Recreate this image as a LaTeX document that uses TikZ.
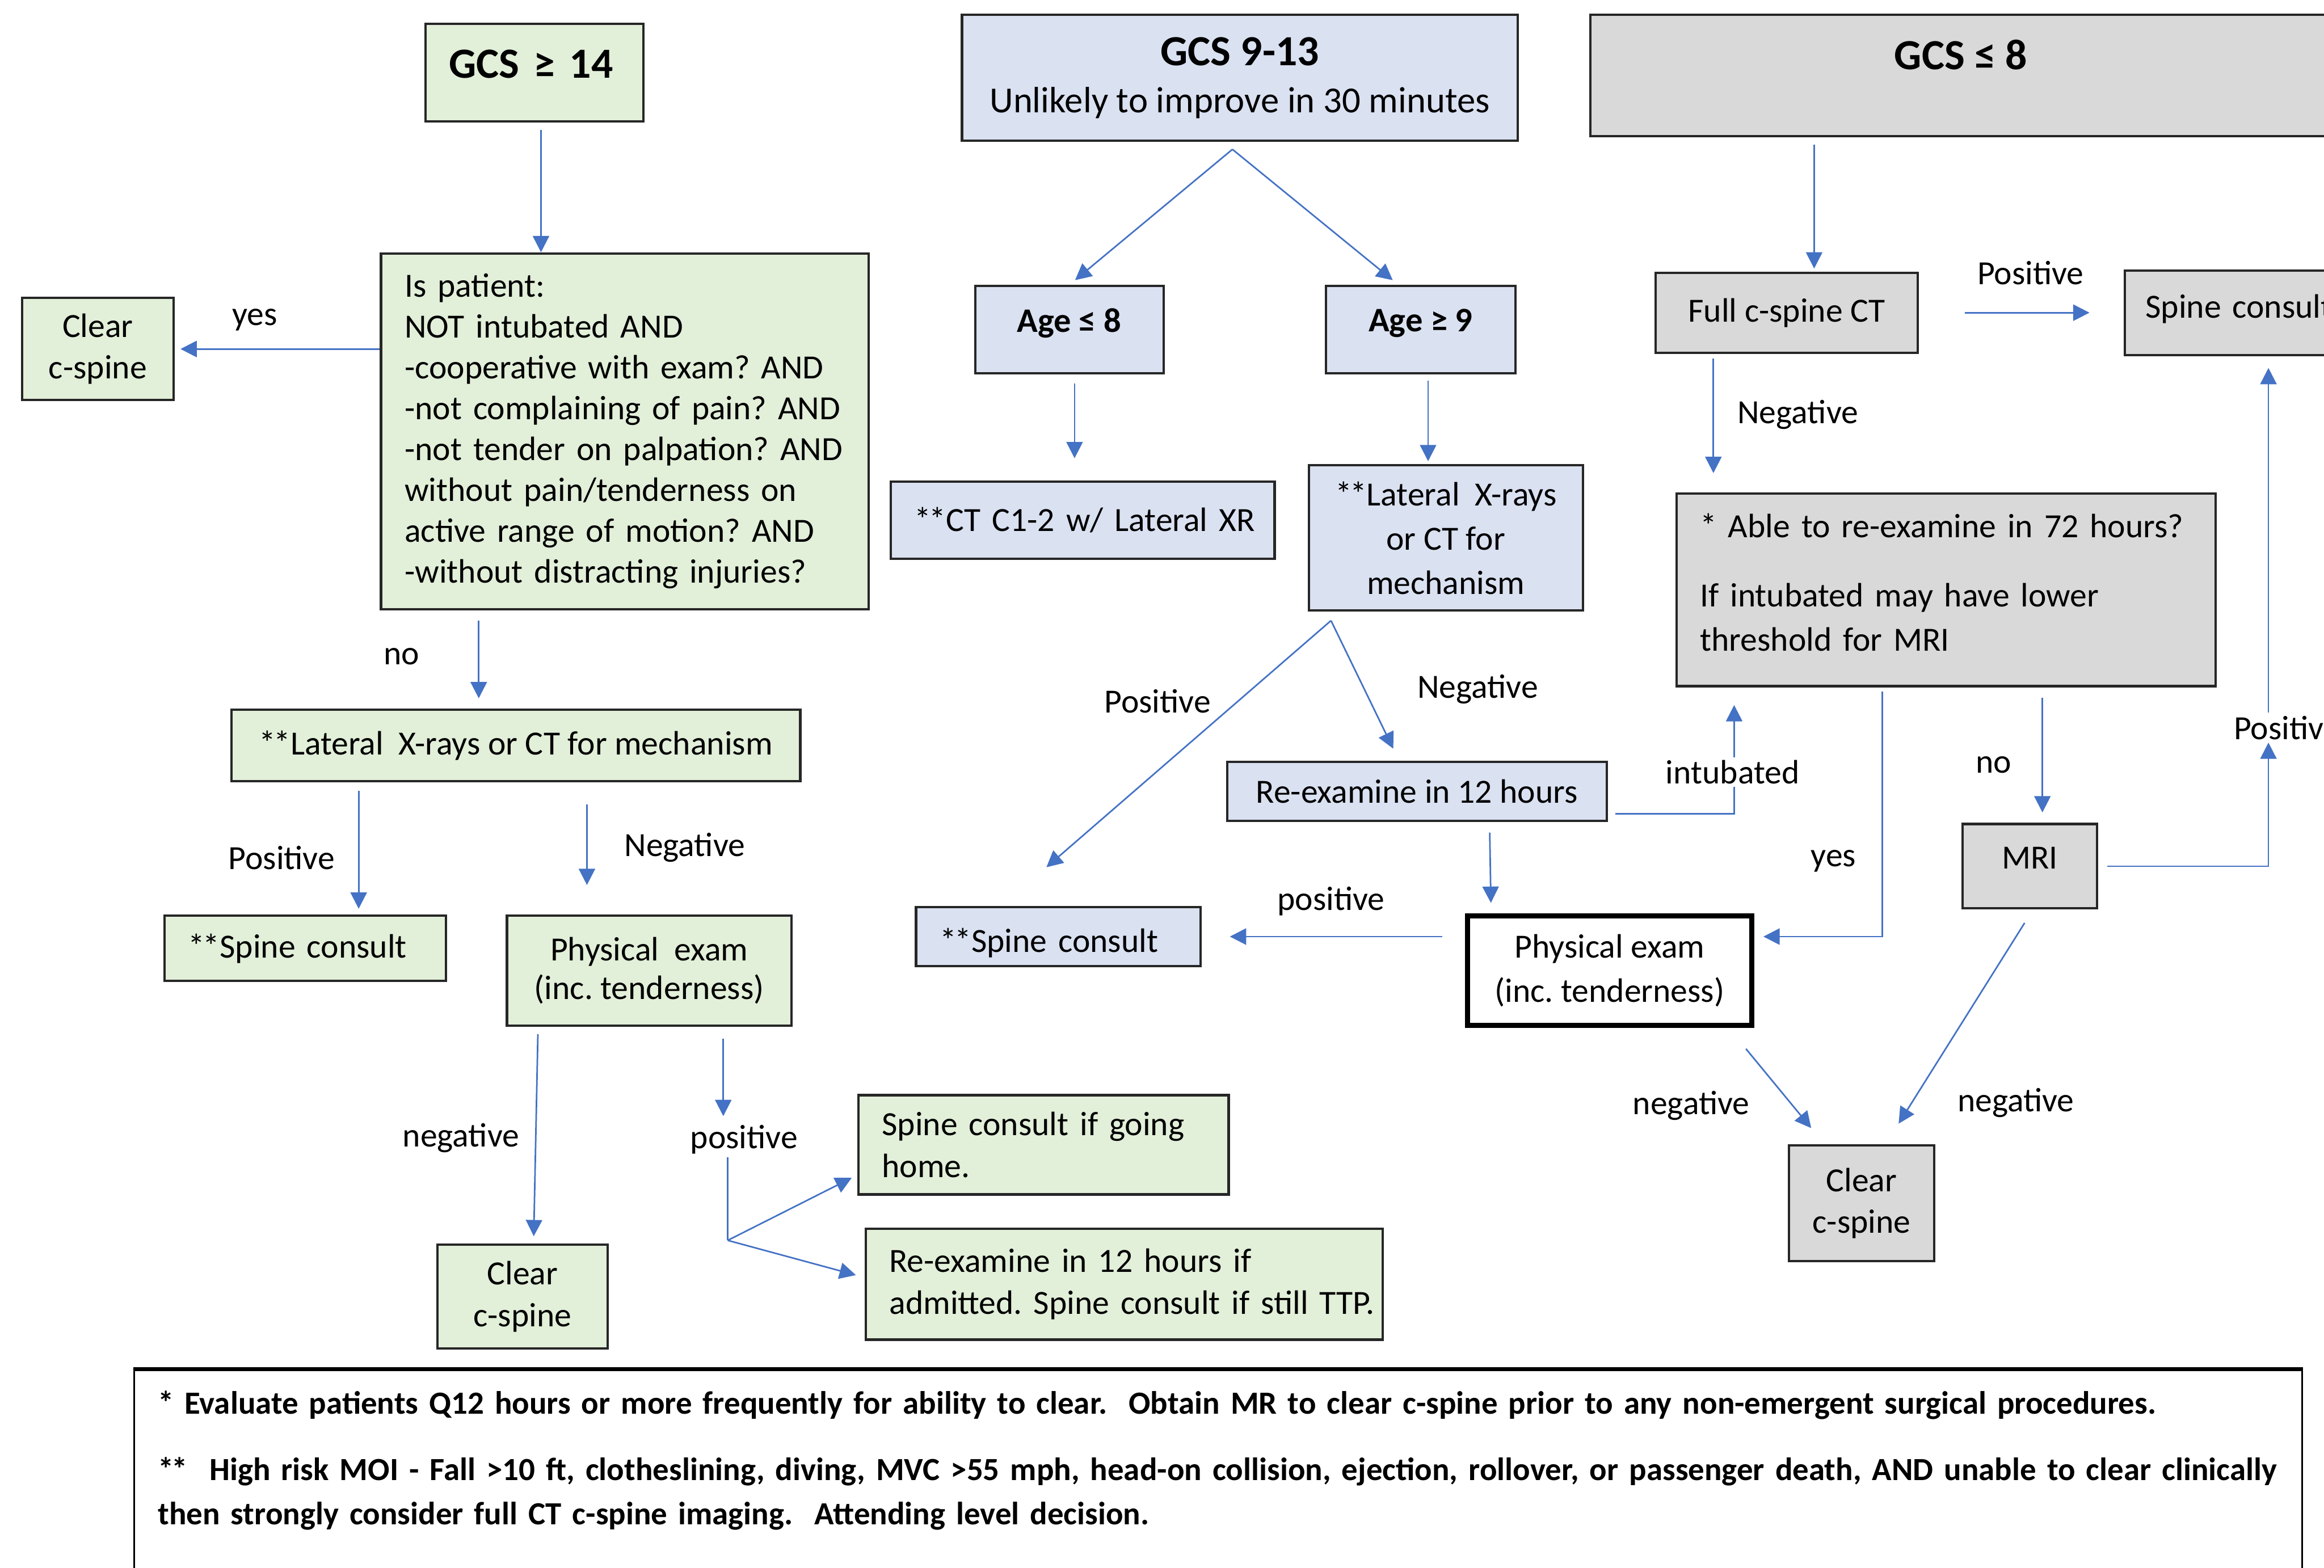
\documentclass[tikz,border=0pt]{standalone}
\usepackage{fontspec}
\setmainfont{Carlito}
\usepackage{tikz}
\usetikzlibrary{arrows.meta,positioning}
\definecolor{boxgreen}{HTML}{E2EFD9}
\definecolor{boxblue}{HTML}{DAE1F1}
\definecolor{boxgrey}{HTML}{D9D9D9}
\definecolor{linkblue}{HTML}{4472C4}
\frenchspacing
\hyphenpenalty=10000
\exhyphenpenalty=10000
\newcommand{\twostar}{*\kern-0.8pt*}

\begin{document}
\begin{tikzpicture}[
    x=0.02cm, y=-0.02cm,
    font=\fontsize{13}{16}\selectfont,
    node distance=0mm,
    block/.style={draw=black!85, line width=0.9pt, align=center, inner sep=0pt},
    gblock/.style={block, fill=boxgreen},
    bblock/.style={block, fill=boxblue},
    cblock/.style={block, fill=boxgrey},
    dims/.style 2 args={minimum width=#1, minimum height=#2},
    head/.style={font=\fontsize{16.5}{19}\selectfont\bfseries},
    lift/.style={text depth=#1},
    leftpad/.style={align=left, inner xsep=0.32cm, text width=#1},
    link/.style={draw=linkblue, line width=0.6pt},
    arr/.style={link, -{Triangle[length=2.2mm, width=2.2mm]}},
    lab/.style={inner sep=1pt}
]
\useasboundingbox (0,0) rectangle (1568,1058);
\clip (0,0) rectangle (1568,1058);

% GCS >= 14
\node[gblock, head, leftpad=2.3cm, dims={2.94cm}{1.32cm}, lift=0.24cm] (g14) at (360.5,49) {GCS~≥~14};
\node[gblock, leftpad=5.94cm, dims={6.54cm}{4.8cm}, font=\fontsize{13}{15.7}\selectfont] (ask) at (421.5,291)
  {Is patient:\\NOT intubated AND\\-cooperative with exam? AND\\-not complaining of pain? AND\\-not tender on palpation? AND\\without pain/tenderness on\\active range of motion? AND\\-without distracting injuries?};
\node[gblock, dims={2.04cm}{1.38cm}] (clr1) at (66,235.5) {Clear\\c-spine};
\node[gblock, dims={7.68cm}{0.96cm}] (lat1) at (348,503) {\twostar Lateral~ X-rays or CT for mechanism};
\node[gblock, leftpad=3.16cm, dims={3.8cm}{0.88cm}] (sc1) at (206,640) {\twostar Spine~consult};
\node[gblock, dims={3.84cm}{1.48cm}, font=\fontsize{13}{14.7}\selectfont] (pe1) at (438,655) {Physical~ exam\\(inc. tenderness)};
\node[gblock, dims={2.3cm}{1.4cm}] (clr2) at (352.5,875) {Clear\\c-spine};
\node[gblock, leftpad=4.36cm, dims={5cm}{1.34cm}] (home) at (704,772.5) {Spine consult if going\\home.};
\node[gblock, leftpad=6.34cm, dims={6.98cm}{1.5cm}] (reex1) at (758.5,866.5) {Re-examine in 12 hours if\\admitted.~Spine~consult~if~still~TTP.};

% GCS 9-13
\node[bblock, dims={7.5cm}{1.7cm}, font=\fontsize{14.1}{18}\selectfont] (g9) at (836.5,52.5)
  {{\fontsize{16.5}{18}\selectfont\bfseries GCS 9-13}\\Unlikely to improve in 30 minutes};
\node[bblock, font=\fontsize{13.2}{16}\selectfont\bfseries, dims={2.54cm}{1.18cm}, lift=0.26cm] (age8) at (721.5,222.5) {Age ≤ 8};
\node[bblock, font=\fontsize{13.2}{16}\selectfont\bfseries, dims={2.56cm}{1.18cm}, lift=0.26cm, right=2.16cm of age8] (age9) {Age ≥ 9};
\node[bblock, leftpad=4.54cm, dims={5.18cm}{1.04cm}] (ct12) at (730.5,351) {\twostar CT~C1-2~w/~Lateral~XR};
\node[bblock, dims={3.7cm}{1.96cm}, font=\fontsize{13}{17}\selectfont] (lat2) at (975.5,363) {\twostar Lateral~ X-rays\\or CT for\\mechanism};
\node[bblock, dims={5.12cm}{0.8cm}] (reex2) at (956,534) {Re-examine in 12 hours};
\node[bblock, leftpad=3.2cm, dims={3.84cm}{0.8cm}, text height=0.5cm] (sc2) at (714,632) {\twostar Spine~consult};
\node[block, draw=black, line width=2pt, fill=white, dims={3.84cm}{1.48cm}, font=\fontsize{13}{17}\selectfont] (pe2) at (1086,655) {Physical exam\\(inc. tenderness)};

% GCS <= 8
\node[cblock, head, dims={10cm}{1.64cm}, lift=0.56cm] (g8) at (1323,51) {GCS ≤ 8};
\node[cblock, dims={3.54cm}{1.08cm}] (fct) at (1205.5,211) {Full c-spine CT};
\node[cblock, leftpad=2.8cm, inner xsep=0.28cm, dims={3.36cm}{1.14cm}, lift=0.18cm, right=2.76cm of fct] (sc3) {Spine~consult};
\node[cblock, leftpad=6.64cm, dims={7.28cm}{2.6cm}, text depth=1.74cm, font=\fontsize{13}{17}\selectfont] (able) at (1313,398)
  {* Able to re-examine in 72 hours?\\[0.34cm]If intubated may have lower\\threshold for MRI};
\node[cblock, dims={1.82cm}{1.14cm}, lift=0.22cm] (mri) at (1369.5,584.5) {MRI};
\node[cblock, dims={1.96cm}{1.56cm}] (clr3) at (1256,812) {Clear\\c-spine};

% footnotes
\node[block, draw=black, line width=0.6pt, anchor=north west, leftpad=28.62cm, inner ysep=0.28cm, text depth=2.6cm,
      font=\fontsize{12.4}{17}\selectfont\bfseries] (note) at (90,924)
  {* Evaluate patients Q12 hours or more frequently for ability to clear.~ Obtain MR to clear c-spine prior to any non-emergent surgical procedures.\\[0.3cm]
   \mbox{\twostar~ High risk MOI - Fall >10 ft, clotheslining, diving, MVC >55 mph, head-on collision, ejection, rollover, or passenger death, AND unable to clear clinically}\\
   then strongly consider full CT c-spine imaging.~ Attending level decision.};
\draw[line width=1.6pt] (note.north west) -- (note.north east);

% edge labels
\foreach \n/\x/\y/\t in {yes1/172/216/yes, no1/271/443/no, pos1/190/579/Positive, neg1/462/572/Negative,
    neg2/311/768/negative, pos2/502/769/positive, pos3/781/473/Positive, neg3/997/465/Negative,
    pos4/898/608/positive, yes2/1237/581/yes, no2/1345/516/no, pos5/1370/184/Positive,
    neg4/1213/280/Negative, neg5/1141/746/negative, neg6/1360/744/negative, posr/1543/491/Positive}
  \node[lab] (\n) at (\x,\y) {\t};

% left column
\draw[arr, shorten <=1mm] ([xshift=0.9mm]g14.south) -- ([xshift=0.9mm]g14.south |- ask.north);
\draw[arr, shorten >=0.8mm] (ask.west |- clr1.east) -- (clr1.east);
\draw[arr, shorten <=1.4mm, shorten >=1.4mm] ([xshift=-5mm]lat1.north |- ask.south) -- ([xshift=-5mm]lat1.north);
\draw[arr, shorten <=1.2mm, shorten >=0.8mm] ([xshift=7.2mm]sc1.north |- lat1.south) -- ([xshift=7.2mm]sc1.north);
\draw[arr, shorten <=3mm, shorten >=4mm] ([xshift=-8.4mm]pe1.north |- lat1.south) -- ([xshift=-8.4mm]pe1.north);
\draw[arr, shorten <=1mm, shorten >=1mm] ([xshift=-15mm]pe1.south) -- ([xshift=1.5mm]clr2.north);
\draw[arr, shorten <=1.6mm, shorten >=0.8mm] ([xshift=10mm]pe1.south) -- ([xshift=10mm]pe1.south |- pos2.north);
\coordinate (split) at (491,837);
\draw[link] (split |- pos2.south) -- (split);
\draw[arr, shorten >=0.8mm] (split) -- ([yshift=-4.1mm]home.west);
\draw[arr, shorten >=1.2mm] (split) -- ([yshift=0.9mm]reex1.west);

% middle column
\coordinate (fork9) at ([xshift=-1mm, yshift=-1mm]g9.south);
\foreach \t/\s in {age8/0mm, age9/-3mm}
  \draw[arr, shorten >=1mm] (fork9) -- ([xshift=\s]\t.north);
\draw[arr, shorten <=1.2mm, shorten >=3mm] ([xshift=0.7mm]age8.south) -- ([xshift=0.7mm]age8.south |- ct12.north);
\draw[arr, shorten <=0.8mm, shorten >=0.4mm] ([xshift=1mm]age9.south) -- ([xshift=1mm]age9.south |- lat2.north);
\coordinate (fork2) at ([xshift=-15.5mm, yshift=-1.2mm]lat2.south);
\draw[arr] (fork2) -- ([xshift=-1.6mm, yshift=5.2mm]sc2.north);
\draw[arr] (fork2) -- ([xshift=-3.2mm, yshift=1.6mm]reex2.north);
\draw[arr, shorten <=1.4mm, shorten >=1.4mm] ([xshift=9.8mm]reex2.south) -- ([xshift=-16mm]pe2.north);
\draw[arr, shorten <=3mm, shorten >=3.8mm] (pe2.west |- sc2.east) -- (sc2.east);

% right column
\draw[arr, shorten <=1mm, shorten >=0.4mm] ([xshift=3.7mm]fct.north |- g8.south) -- ([xshift=3.7mm]fct.north);
\draw[arr, shorten <=6.2mm, shorten >=4.6mm] (fct.east) -- (fct.east -| sc3.west);
\draw[arr, shorten <=0.6mm, shorten >=2.6mm] ([xshift=-9.9mm]fct.south) -- ([xshift=-9.9mm]fct.south |- able.north);
\draw[arr, shorten <=1mm, shorten >=2.4mm] ([yshift=-3mm]reex2.east) -| ([xshift=-28.6mm]able.south);
\draw[arr, shorten <=0.6mm, shorten >=1.2mm] ([xshift=-8.6mm]able.south) |- ([yshift=4.6mm]pe2.east);
\draw[arr, shorten <=1.4mm, shorten >=1.4mm] ([xshift=1.7mm]mri.north |- able.south) -- ([xshift=1.7mm]mri.north);
\draw[arr, shorten <=1.2mm] (mri.east) -| ([xshift=-2.5mm]posr.south);
\draw[arr, shorten >=1.6mm] ([xshift=-2.5mm]posr.north) -- ([xshift=-2.5mm]posr.north |- sc3.south);
\draw[arr] ([xshift=-0.7mm, yshift=-1.8mm]mri.south) -- ([xshift=5mm, yshift=2.8mm]clr3.north);
\draw[arr] ([xshift=18.4mm, yshift=-2.8mm]pe2.south) -- ([xshift=-6.8mm, yshift=2.2mm]clr3.north);
\node[lab, fill=white] (intub) at (1169,521) {intubated};
\end{tikzpicture}
\end{document}
